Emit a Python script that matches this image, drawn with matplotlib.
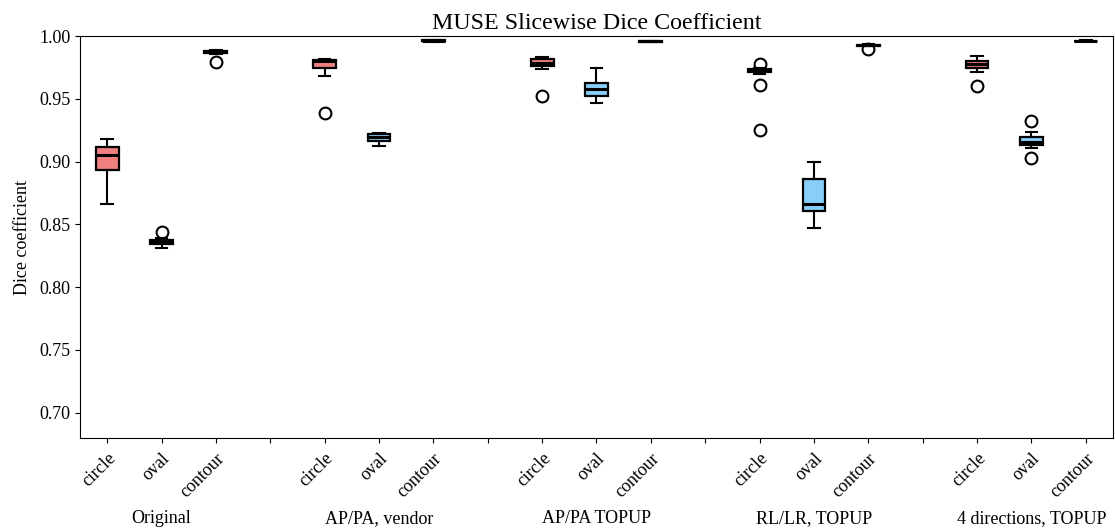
import matplotlib
matplotlib.use("Agg")
import matplotlib.pyplot as plt
import matplotlib.transforms as mtransforms

plt.rcParams['font.family'] = ['Liberation Serif', 'DejaVu Serif']

groups = ["Original", "AP/PA, vendor", "AP/PA TOPUP", "RL/LR, TOPUP", "4 directions, TOPUP"]
shapes = ["circle", "oval", "contour"]
colors = {"circle": "#F08080", "oval": "#87CEFA", "contour": "#90EE90"}

# box stats per shape, one entry per group: (whislo, q1, med, q3, whishi)
circle_stats = [
    (0.866, 0.893, 0.9055, 0.912, 0.918),
    (0.968, 0.975, 0.9805, 0.9814, 0.982),
    (0.9735, 0.9764, 0.9787, 0.9817, 0.9835),
    (0.970, 0.9712, 0.9728, 0.9738, 0.975),
    (0.9711, 0.975, 0.978, 0.9804, 0.9841),
]
circle_fliers = [[], [0.9385], [0.9522], [0.9775, 0.9615, 0.9252], [0.9607]]

oval_stats = [
    (0.8315, 0.8345, 0.836, 0.8375, 0.839),
    (0.9124, 0.9168, 0.9195, 0.9222, 0.923),
    (0.9469, 0.9525, 0.9578, 0.9628, 0.9743),
    (0.8471, 0.8604, 0.866, 0.8859, 0.8997),
    (0.9111, 0.9132, 0.9156, 0.9198, 0.9238),
]
oval_fliers = [[0.844], [], [], [], [0.9326, 0.9031]]

contour_stats = [
    (0.9855, 0.9862, 0.9875, 0.9885, 0.9890),
    (0.9955, 0.9960, 0.9963, 0.9966, 0.9969),
    (0.9950, 0.9955, 0.9958, 0.9961, 0.9965),
    (0.9920, 0.9925, 0.9928, 0.9931, 0.9935),
    (0.9958, 0.9961, 0.9963, 0.9965, 0.9968),
]
contour_fliers = [[0.9795], [], [], [0.9897], []]

all_stats = {"circle": (circle_stats, circle_fliers),
             "oval": (oval_stats, oval_fliers),
             "contour": (contour_stats, contour_fliers)}

fig = plt.figure(figsize=(11.15, 5.32), dpi=100)
ax = fig.add_axes([0.0717, 0.177, 0.9265, 0.755])

for si, shape in enumerate(shapes):
    stats, fliers = all_stats[shape]
    bxp_list = []
    positions = []
    for gi in range(len(groups)):
        lo, q1, med, q3, hi = stats[gi]
        bxp_list.append(dict(whislo=lo, q1=q1, med=med, q3=q3, whishi=hi, fliers=fliers[gi]))
        positions.append(gi * 4 + si + 1)
    ax.bxp(bxp_list, positions=positions, widths=0.42, patch_artist=True,
           boxprops=dict(facecolor=colors[shape], edgecolor="black", linewidth=1.6),
           medianprops=dict(color="black", linewidth=2.2),
           whiskerprops=dict(color="black", linewidth=1.5),
           capprops=dict(color="black", linewidth=1.5),
           flierprops=dict(marker="o", markerfacecolor="none", markeredgecolor="black",
                           markersize=8.5, markeredgewidth=1.5))

ticks = list(range(1, 4 * len(groups)))
labels = []
for t in ticks:
    if t % 4 == 0:
        labels.append("")
    else:
        labels.append(shapes[(t - 1) % 4])
ax.set_xticks(ticks)
ax.set_xticklabels(labels, rotation=45, ha="right", va="top", rotation_mode="anchor", fontsize=13)
ax.tick_params(axis="x", pad=5)
ax.set_xlim(0.5, 4 * len(groups) - 0.5)
ax.set_ylim(0.68, 1.0)
ax.set_yticks([0.70, 0.75, 0.80, 0.85, 0.90, 0.95, 1.00])
ax.set_yticklabels(["0.70", "0.75", "0.80", "0.85", "0.90", "0.95", "1.00"], fontsize=13)
ax.set_ylabel("Dice coefficient", fontsize=13, labelpad=6)
ax.set_title("MUSE Slicewise Dice Coefficient", fontsize=17.3, pad=5)

trans = mtransforms.blended_transform_factory(ax.transData, ax.transAxes)
for gi, g in enumerate(groups):
    ax.text(gi * 4 + 2, -0.2, g, transform=trans, ha="center", va="center", fontsize=13)

fig.savefig("out.png", dpi=100)
